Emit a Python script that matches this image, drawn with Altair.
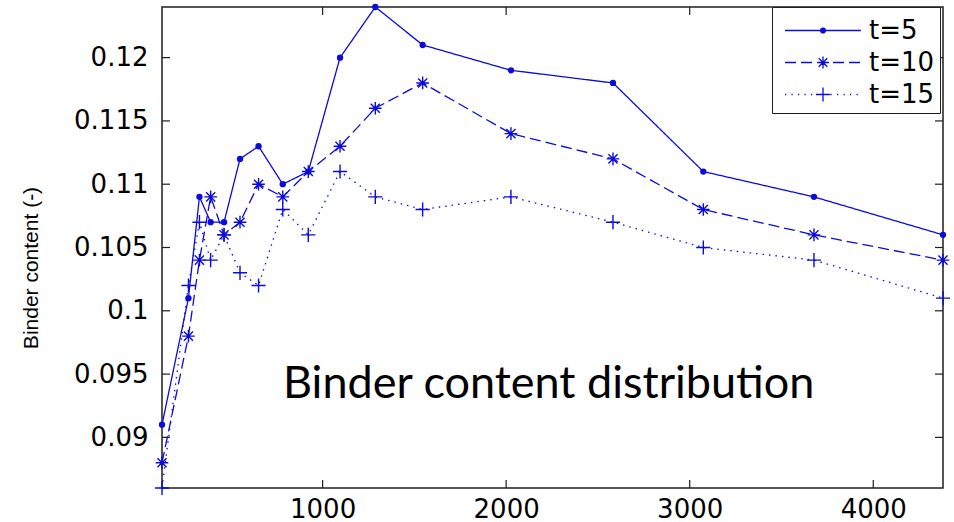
import altair as alt
import pandas as pd

# Sampling positions (shared by all three series)
positions = [125, 269, 329, 390, 463, 550, 651, 783, 922, 1095, 1287,
             1545, 2026, 2582, 3074, 3677, 4380]

# Binder content at each position, per time step
binder_t5 = [0.091, 0.101, 0.109, 0.107, 0.107, 0.112, 0.113, 0.110, 0.111,
             0.120, 0.124, 0.121, 0.119, 0.118, 0.111, 0.109, 0.106]
binder_t10 = [0.088, 0.098, 0.104, 0.109, 0.106, 0.107, 0.110, 0.109, 0.111,
              0.113, 0.116, 0.118, 0.114, 0.112, 0.108, 0.106, 0.104]
binder_t15 = [0.086, 0.102, 0.107, 0.104, 0.106, 0.103, 0.102, 0.108, 0.106,
              0.111, 0.109, 0.108, 0.109, 0.107, 0.105, 0.104, 0.101]

series_names = ["t=5", "t=10", "t=15"]
x_ticks = [1000, 2000, 3000, 4000]
y_ticks = [0.09, 0.095, 0.1, 0.105, 0.11, 0.115, 0.12]
x_range = [125, 4380]
y_range = [0.086, 0.124]
y_title = ["Binder content (-)"]

note_text = ["Binder content distribution"]
note_x = [784]
note_y = [0.0931]

BLUE = "#0b0bdc"
INK = "#1e1e1e"
W, H = 781, 481
TICK_LEN = 8
TICK_FONT = "DejaVu Sans"

series_values = [binder_t5, binder_t10, binder_t15]
df = pd.DataFrame(
    [{"series": s, "x": x, "y": y}
     for s, vals in zip(series_names, series_values)
     for x, y in zip(positions, vals)]
)

x_scale = alt.Scale(domain=x_range, nice=False, zero=False)
y_scale = alt.Scale(domain=y_range, nice=False, zero=False)

x_axis = alt.Axis(values=x_ticks, format="d", ticks=False, domain=False,
                  grid=False, labelFlush=False)
y_axis = alt.Axis(values=y_ticks, format="~g", ticks=False, domain=False,
                  grid=False, labelFlush=False)


def X(field="x"):
    return alt.X(f"{field}:Q", scale=x_scale, axis=x_axis, title=None)


def Y(field="y"):
    return alt.Y(f"{field}:Q", scale=y_scale, axis=y_axis, title=None)


# Marker outlines in the unit square
ASTERISK = ("M-1,0L1,0M0,-1L0,1M-0.72,-0.72L0.72,0.72M-0.72,0.72L0.72,-0.72")
PLUS = "M-1,0L1,0M0,-1L0,1"

styles = {
    "t=5": dict(dash=[1, 0], shape="circle", filled=True, size=40),
    "t=10": dict(dash=[11, 5], shape=ASTERISK, filled=False, size=160),
    "t=15": dict(dash=[1.5, 5], shape=PLUS, filled=False, size=200),
}

layers = []
for name in series_names:
    st = styles[name]
    sub = df[df["series"] == name]
    layers.append(
        alt.Chart(sub).mark_line(color=BLUE, strokeWidth=1.3,
                                 strokeDash=st["dash"])
        .encode(x=X(), y=Y())
    )
    layers.append(
        alt.Chart(sub).mark_point(color=BLUE, shape=st["shape"],
                                  filled=st["filled"], size=st["size"],
                                  strokeWidth=1.4, opacity=1)
        .encode(x=X(), y=Y())
    )

# Legend glyphs: line sample plus marker, in pixels, scaled to symbol units
UNIT = 17.5  # half of the legend symbol's nominal size (35 px)
HALF = 38


def fmt(v):
    return f"{v / UNIT:.3f}"


def seg(a, b):
    return f"M{fmt(a)},0L{fmt(b)},0"


def dashed(on, off):
    parts, p = [], -HALF
    while p < HALF:
        parts.append(seg(p, min(p + on, HALF)))
        p += on + off
    return "".join(parts)


def star(r):
    d = r * 0.72
    return (f"M{fmt(-r)},0L{fmt(r)},0M0,{fmt(-r)}L0,{fmt(r)}"
            f"M{fmt(-d)},{fmt(-d)}L{fmt(d)},{fmt(d)}"
            f"M{fmt(-d)},{fmt(d)}L{fmt(d)},{fmt(-d)}")


def plus(r):
    return f"M{fmt(-r)},0L{fmt(r)},0M0,{fmt(-r)}L0,{fmt(r)}"


def ring(r):
    return (f"M{fmt(r)},0A{fmt(r)},{fmt(r)} 0 1,1 {fmt(-r)},0"
            f"A{fmt(r)},{fmt(r)} 0 1,1 {fmt(r)},0")


def dot(r):
    # solid-looking dot built from stroked concentric rings
    return ring(r) + ring(r * 0.55) + ring(r * 0.15)


legend_paths = [
    seg(-HALF, HALF) + dot(2.4),
    dashed(11, 5) + star(6),
    dashed(1.2, 5.3) + plus(7),
]

legend_layer = (
    alt.Chart(df)
    .mark_point(color=BLUE, filled=False, strokeWidth=1.3, opacity=1)
    .encode(
        x=X(), y=Y(),
        shape=alt.Shape(
            "series:N",
            scale=alt.Scale(domain=series_names, range=legend_paths),
            legend=alt.Legend(
                title=None, orient="none", legendX=610, legendY=0,
                padding=5, rowPadding=0, symbolSize=1225,
                symbolOffset=27.5, labelOffset=27.5,
                symbolStrokeColor=BLUE, symbolStrokeWidth=1.3,
                symbolOpacity=1,
                labelFont=TICK_FONT, labelFontSize=26, labelColor="black",
                labelExpr="datum.label + '\u00a0'",
                strokeColor=INK, fillColor="white",
            ),
        ),
    )
    .transform_filter("false")
)

# Inward tick marks on all four sides of the box
xt = pd.DataFrame({"x": x_ticks})
yt = pd.DataFrame({"y": y_ticks})
tick_mark = dict(color=INK, strokeWidth=1.2)
ticks = [
    alt.Chart(xt).mark_rule(**tick_mark).encode(
        x=X(), y=alt.value(H), y2=alt.value(H - TICK_LEN)),
    alt.Chart(xt).mark_rule(**tick_mark).encode(
        x=X(), y=alt.value(0), y2=alt.value(TICK_LEN)),
    alt.Chart(yt).mark_rule(**tick_mark).encode(
        y=Y(), x=alt.value(0), x2=alt.value(TICK_LEN)),
    alt.Chart(yt).mark_rule(**tick_mark).encode(
        y=Y(), x=alt.value(W), x2=alt.value(W - TICK_LEN)),
]

note = (
    alt.Chart(pd.DataFrame({"x": note_x, "y": note_y, "text": note_text}))
    .mark_text(font="Lato", fontSize=45, color="black", align="left",
               baseline="alphabetic")
    .encode(x=X(), y=Y(), text="text:N")
)

# Vertical axis title, set to the left of the tick labels
y_label = (
    alt.Chart(pd.DataFrame({"text": y_title}))
    .mark_text(font="Liberation Sans", fontSize=21, color="black",
               angle=270, align="center", baseline="middle")
    .encode(text="text:N", x=alt.value(-130), y=alt.value(261))
)

chart = (
    alt.layer(*ticks, *layers, legend_layer, note, y_label)
    .properties(
        width=W, height=H,
        padding={"left": 162, "top": 7, "right": 11, "bottom": 34},
        autosize=alt.AutoSizeParams(type="none"),
        background="white",
    )
    .configure_view(stroke=INK, strokeWidth=1.5)
    .configure_axis(labelFont=TICK_FONT, labelFontSize=26,
                    labelColor="black")
    .configure_axisX(labelPadding=8)
    .configure_axisY(labelPadding=14)
)

chart.save("out.html", embed_options={"renderer": "svg", "actions": False})
